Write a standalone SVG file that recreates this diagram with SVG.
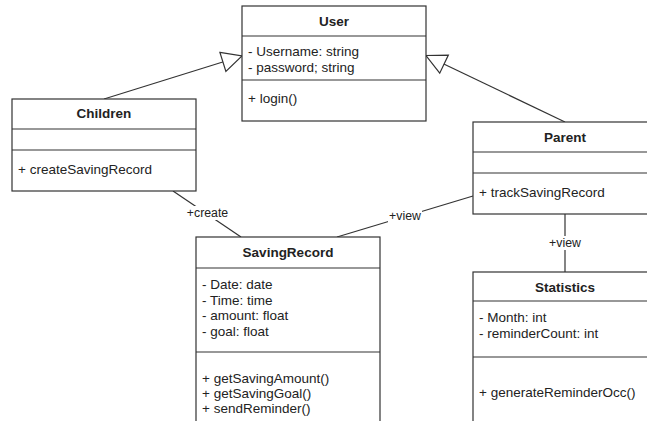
<svg xmlns="http://www.w3.org/2000/svg" width="647" height="421" viewBox="0 0 647 421">
<style>
  .box{fill:#fff;stroke:#333;stroke-width:1.2}
  .div{stroke:#333;stroke-width:1.2}
  .edge{stroke:#333;stroke-width:1.2;fill:none}
  text{font-family:"Liberation Sans",Arial,sans-serif;fill:#222}
  .t{font-size:13.5px;font-weight:bold;text-anchor:middle}
  .m{font-size:13.5px}
  .lbl{font-size:12.3px;text-anchor:middle}
  .bg{fill:#fff}
</style>
<defs>
  <marker id="inh" viewBox="0 0 20 20" refX="20" refY="10" markerWidth="20" markerHeight="20" markerUnits="userSpaceOnUse" orient="auto" overflow="visible">
    <path d="M0,0 L20,10 L0,20 Z" fill="#fff" stroke="#333" stroke-width="1.2"/>
  </marker>
</defs>
<g id="connectors">
  <line class="edge" x1="104" y1="99" x2="242" y2="56" marker-end="url(#inh)"/>
  <line class="edge" x1="565" y1="122" x2="426" y2="55.5" marker-end="url(#inh)"/>
  <line class="edge" x1="173" y1="191" x2="241" y2="237"/>
  <rect class="bg" x="186" y="206" width="43" height="14"/>
  <text class="lbl" x="207.5" y="217">+create</text>
  <line class="edge" x1="473" y1="196" x2="337" y2="237"/>
  <rect class="bg" x="388" y="209" width="34" height="14"/>
  <text class="lbl" x="405" y="220">+view</text>
  <line class="edge" x1="565" y1="214" x2="565" y2="272"/>
  <rect class="bg" x="548" y="236" width="34" height="14"/>
  <text class="lbl" x="565" y="247">+view</text>
</g>
<g id="User">
  <rect class="box" x="242" y="6" width="184" height="115"/>
  <line class="div" x1="242" y1="36" x2="426" y2="36"/>
  <line class="div" x1="242" y1="80" x2="426" y2="80"/>
  <text class="t" x="334" y="26">User</text>
  <text class="m" x="248" y="56">- Username: string</text>
  <text class="m" x="248" y="72">- password; string</text>
  <text class="m" x="248" y="103">+ login()</text>
</g>
<g id="Children">
  <rect class="box" x="12" y="99" width="184" height="92"/>
  <line class="div" x1="12" y1="129" x2="196" y2="129"/>
  <line class="div" x1="12" y1="150" x2="196" y2="150"/>
  <text class="t" x="104" y="118">Children</text>
  <text class="m" x="18" y="174">+ createSavingRecord</text>
</g>
<g id="Parent">
  <rect class="box" x="473" y="122" width="184" height="92"/>
  <line class="div" x1="473" y1="152" x2="657" y2="152"/>
  <line class="div" x1="473" y1="173" x2="657" y2="173"/>
  <text class="t" x="565" y="142">Parent</text>
  <text class="m" x="479" y="197">+ trackSavingRecord</text>
</g>
<g id="SavingRecord">
  <rect class="box" x="196" y="237" width="184" height="200"/>
  <line class="div" x1="196" y1="268" x2="380" y2="268"/>
  <line class="div" x1="196" y1="352" x2="380" y2="352"/>
  <text class="t" x="288" y="257">SavingRecord</text>
  <text class="m" x="202" y="289">- Date: date</text>
  <text class="m" x="202" y="304.5">- Time: time</text>
  <text class="m" x="202" y="320">- amount: float</text>
  <text class="m" x="202" y="336">- goal: float</text>
  <text class="m" x="202" y="383">+ getSavingAmount()</text>
  <text class="m" x="202" y="398">+ getSavingGoal()</text>
  <text class="m" x="202" y="413">+ sendReminder()</text>
</g>
<g id="Statistics">
  <rect class="box" x="473" y="272" width="184" height="165"/>
  <line class="div" x1="473" y1="301" x2="657" y2="301"/>
  <line class="div" x1="473" y1="357" x2="657" y2="357"/>
  <text class="t" x="565" y="292">Statistics</text>
  <text class="m" x="479" y="322">- Month: int</text>
  <text class="m" x="479" y="337.5">- reminderCount: int</text>
  <text class="m" x="479" y="397">+ generateReminderOcc()</text>
</g>
</svg>
